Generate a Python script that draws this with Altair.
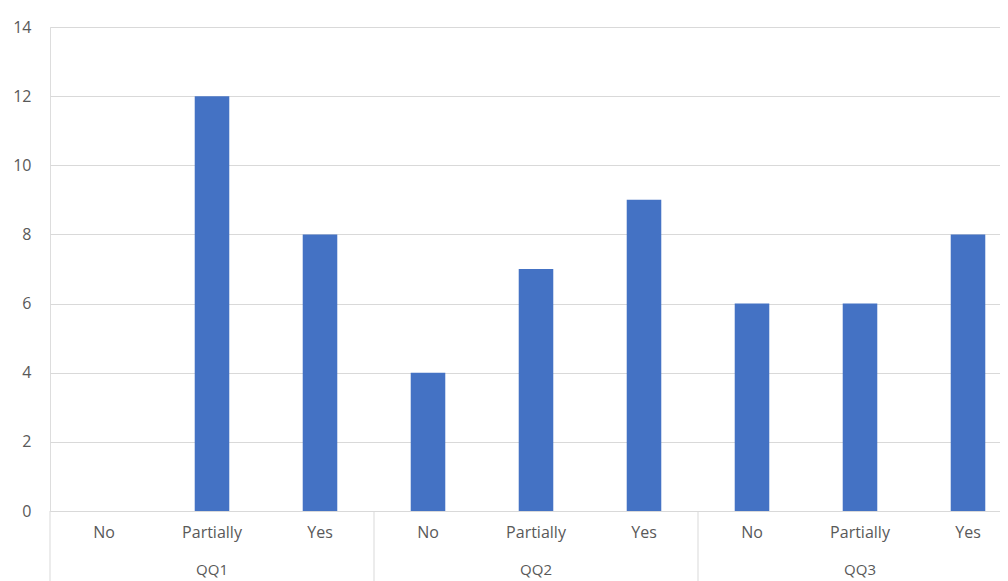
import altair as alt
import pandas as pd

questions = ["QQ1", "QQ1", "QQ1", "QQ2", "QQ2", "QQ2", "QQ3", "QQ3", "QQ3"]
responses = ["No", "Partially", "Yes", "No", "Partially", "Yes", "No", "Partially", "Yes"]
counts = [0, 12, 8, 4, 7, 9, 6, 6, 8]
y_ticks = [0, 2, 4, 6, 8, 10, 12, 14]
groups = ["QQ1", "QQ2", "QQ3"]

keys = [f"{q}|{r}" for q, r in zip(questions, responses)]
df = pd.DataFrame({"key": keys, "question": questions, "response": responses, "count": counts})
grp_df = pd.DataFrame({"key": [f"{g}|Partially" for g in groups], "label": groups})
sep_df = pd.DataFrame({"key": [f"{g}|No" for g in groups]})
last_df = pd.DataFrame({"key": [keys[-1]]})

FONT = "Open Sans"
TXT = "#595959"
GRID = "#d9d9d9"
RANGE_W = 972   # full category-axis length (extends past the visible window)
VIEW_W = 950
H = 484
P_INNER = 0.68
STEP = RANGE_W / len(keys)
BAND = STEP * (1 - P_INNER)

xscale = alt.Scale(domain=keys, range=[0, RANGE_W], paddingInner=P_INNER, paddingOuter=P_INNER / 2)

bars = alt.Chart(df).mark_bar(color="#4472C4").encode(
    x=alt.X("key:N", scale=xscale, sort=keys, title=None,
            axis=alt.Axis(labelExpr="split(datum.label, '|')[1]", labelAngle=0,
                          ticks=False, domain=False,
                          labelPadding=13, labelFontSize=16, labelFont=FONT,
                          labelColor=TXT, grid=False)),
    y=alt.Y("count:Q", scale=alt.Scale(domain=[0, 14], nice=False), title=None,
            axis=alt.Axis(values=y_ticks, ticks=False, domain=False, gridColor=GRID,
                          labelPadding=19, labelFontSize=16, labelFont=FONT,
                          labelColor=TXT)),
)

grp_text = alt.Chart(grp_df).mark_text(font=FONT, fontSize=15, color=TXT, baseline="alphabetic").encode(
    x=alt.X("key:N", scale=xscale, sort=keys),
    y=alt.value(H + 64),
    text="label:N",
)

# rule marks sit at the band start; shift to the boundary between categories
seps = alt.Chart(sep_df).mark_rule(color=GRID, strokeWidth=1).encode(
    x=alt.X("key:N", scale=xscale, sort=keys),
    xOffset=alt.value(BAND / 2 - STEP / 2),
    y=alt.value(H),
    y2=alt.value(H + 80),
)

last_sep = alt.Chart(last_df).mark_rule(color=GRID, strokeWidth=1).encode(
    x=alt.X("key:N", scale=xscale, sort=keys),
    xOffset=alt.value(BAND / 2 + STEP / 2),
    y=alt.value(H),
    y2=alt.value(H + 80),
)

chart = alt.layer(bars, seps, last_sep, grp_text).properties(
    width=VIEW_W, height=H,
    autosize=alt.AutoSizeParams(type="none"),
    padding={"top": 19, "left": 42, "right": 0, "bottom": 70},
).configure_view(
    stroke="transparent", strokeWidth=0, strokeOpacity=0, clip=False
).configure_axis(domain=False).configure(background="white")

chart.save("out.html", embed_options={"renderer": "svg", "actions": False})
